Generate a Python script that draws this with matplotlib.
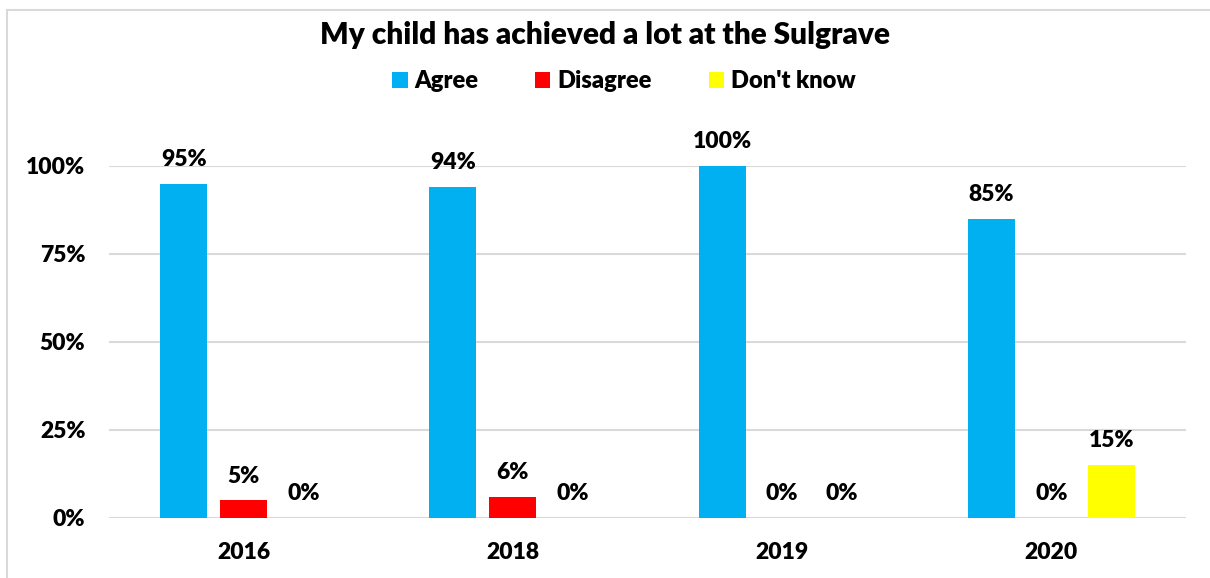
import matplotlib.pyplot as plt
import numpy as np
from matplotlib.patches import Rectangle

years = ['2016', '2018', '2019', '2020']
series_names = ['Agree', 'Disagree', "Don't know"]
agree = [0.95, 0.94, 1.00, 0.85]
disagree = [0.05, 0.06, 0.00, 0.00]
dont_know = [0.00, 0.00, 0.00, 0.15]
colors = ['#00B0F0', '#FF0000', '#FFFF00']

WEIGHT = 800
plt.rcParams['font.family'] = ['Lato', 'DejaVu Sans']
plt.rcParams['font.weight'] = WEIGHT

fig = plt.figure(figsize=(12.1, 5.78), dpi=100)
ax = fig.add_axes([109 / 1210, 1 - 518 / 578, 1077 / 1210, 352 / 578])

# chart border (screenshot is cropped on the right and bottom)
fig.patches.append(Rectangle((7 / 1210, -0.1), 1.2, 1 - 10 / 578 + 0.1,
                             transform=fig.transFigure, fill=False,
                             edgecolor='#d9d9d9', linewidth=1.5))

x = np.arange(len(years))
width = 0.175
step = 0.223
for i, (name, vals) in enumerate(zip(series_names, [agree, disagree, dont_know])):
    pos = x + (i - 1) * step
    ax.bar(pos, vals, width, color=colors[i], label=name, zorder=3)
    for p, v in zip(pos, vals):
        ax.annotate(f'{v:.0%}', (p, v), xytext=(0, 10), textcoords='offset points',
                    ha='center', va='bottom', fontsize=16.5, fontweight=WEIGHT,
                    annotation_clip=False)

ax.set_xlim(-0.5, len(years) - 0.5)
ax.set_ylim(0, 1)
ax.set_yticks([0, 0.25, 0.5, 0.75, 1.0])
ax.set_yticklabels(['0%', '25%', '50%', '75%', '100%'])
ax.set_xticks(x)
ax.set_xticklabels(years)
ax.tick_params(axis='both', length=0, labelsize=16.5)
ax.tick_params(axis='y', pad=17)
ax.tick_params(axis='x', pad=17)
for lbl in ax.get_xticklabels() + ax.get_yticklabels():
    lbl.set_fontweight(WEIGHT)
ax.grid(axis='y', color='#d9d9d9', linewidth=1.5, zorder=0)
for s in ax.spines.values():
    s.set_visible(False)

fig.text(0.5, 1 - 35 / 578, 'My child has achieved a lot at the Sulgrave',
         ha='center', va='center', fontsize=21.5, fontweight=WEIGHT)
fig.legend(loc='center', bbox_to_anchor=(624 / 1210, 1 - 81 / 578), ncol=3, frameon=False,
           handlelength=0.64, handleheight=0.64, handletextpad=0.3, columnspacing=2.4,
           prop={'size': 17, 'weight': WEIGHT})

fig.savefig('out.png', dpi=100, facecolor='white')
